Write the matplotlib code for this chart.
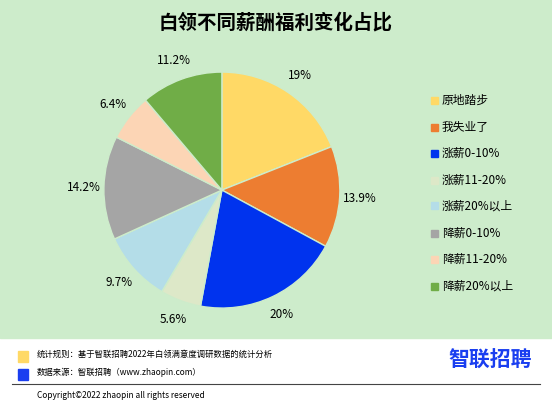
import matplotlib
matplotlib.use("Agg")
import matplotlib.pyplot as plt
from matplotlib.patches import Rectangle

plt.rcParams['font.family'] = ['Noto Sans CJK SC', 'DejaVu Sans']

categories = ['原地踏步', '我失业了', '涨薪0-10%', '涨薪11-20%', '涨薪20%以上', '降薪0-10%', '降薪11-20%', '降薪20%以上']
values = [19, 13.9, 20, 5.6, 9.7, 14.2, 6.4, 11.2]
labels = ['19%', '13.9%', '20%', '5.6%', '9.7%', '14.2%', '6.4%', '11.2%']
colors = ['#ffd966', '#ed7d31', '#0033ee', '#dde8c8', '#b4dde8', '#a5a5a5', '#fcd5b5', '#70ad47']

fig = plt.figure(figsize=(5.52, 4.07), dpi=100)
fig.patch.set_facecolor('white')
bg = '#cdeccb'
fig.add_artist(Rectangle((0, 69/407), 1, 1, transform=fig.transFigure, color=bg, zorder=-10))

fig.text(0.5, 0.945, '白领不同薪酬福利变化占比', ha='center', va='center', fontsize=14, fontweight='bold')

ax = fig.add_axes([0.402-0.2138, 0.533-0.29, 0.4275, 0.58])
ax.set_facecolor(bg)
wedges, texts = ax.pie(values, colors=colors, startangle=90, counterclock=False,
                       labels=labels, labeldistance=1.17,
                       wedgeprops=dict(edgecolor=bg, linewidth=1),
                       textprops=dict(fontsize=8.5))
for t in texts:
    t.set_ha('center')
ax.set_xlim(-1, 1)
ax.set_ylim(-1, 1)
ax.set_aspect('equal')

ys = [100, 127, 153, 180, 206, 233, 259, 286]
for c, name, y in zip(colors, categories, ys):
    yf = 1 - y / 407
    fig.add_artist(Rectangle((431/552, yf - 3.5/407), 7/552, 7/407, transform=fig.transFigure, color=c))
    fig.text(442/552, yf, name, va='center', fontsize=8.5)

fig.add_artist(Rectangle((18/552, 1 - 362/407), 10/552, 11/407, transform=fig.transFigure, color='#ffd966'))
fig.add_artist(Rectangle((18/552, 1 - 380/407), 10/552, 11/407, transform=fig.transFigure, color='#1a3ef0'))
fig.text(37/552, 1 - 354/407, '统计规则：基于智联招聘2022年白领满意度调研数据的统计分析', va='center', fontsize=6)
fig.text(37/552, 1 - 372/407, '数据来源：智联招聘（www.zhaopin.com）', va='center', fontsize=6)
fig.text(532/552, 1 - 360/407, '智联招聘', ha='right', va='center', fontsize=15, fontweight='bold', color='#1a3ef0')
fig.add_artist(plt.Line2D([12/552, 540/552], [1 - 384/407] * 2, transform=fig.transFigure, color='#444444', lw=0.8))
fig.text(37/552, 1 - 396/407, 'Copyright©2022 zhaopin all rights reserved', va='center', fontsize=6)

fig.savefig('out.png', dpi=100, facecolor=fig.get_facecolor())
